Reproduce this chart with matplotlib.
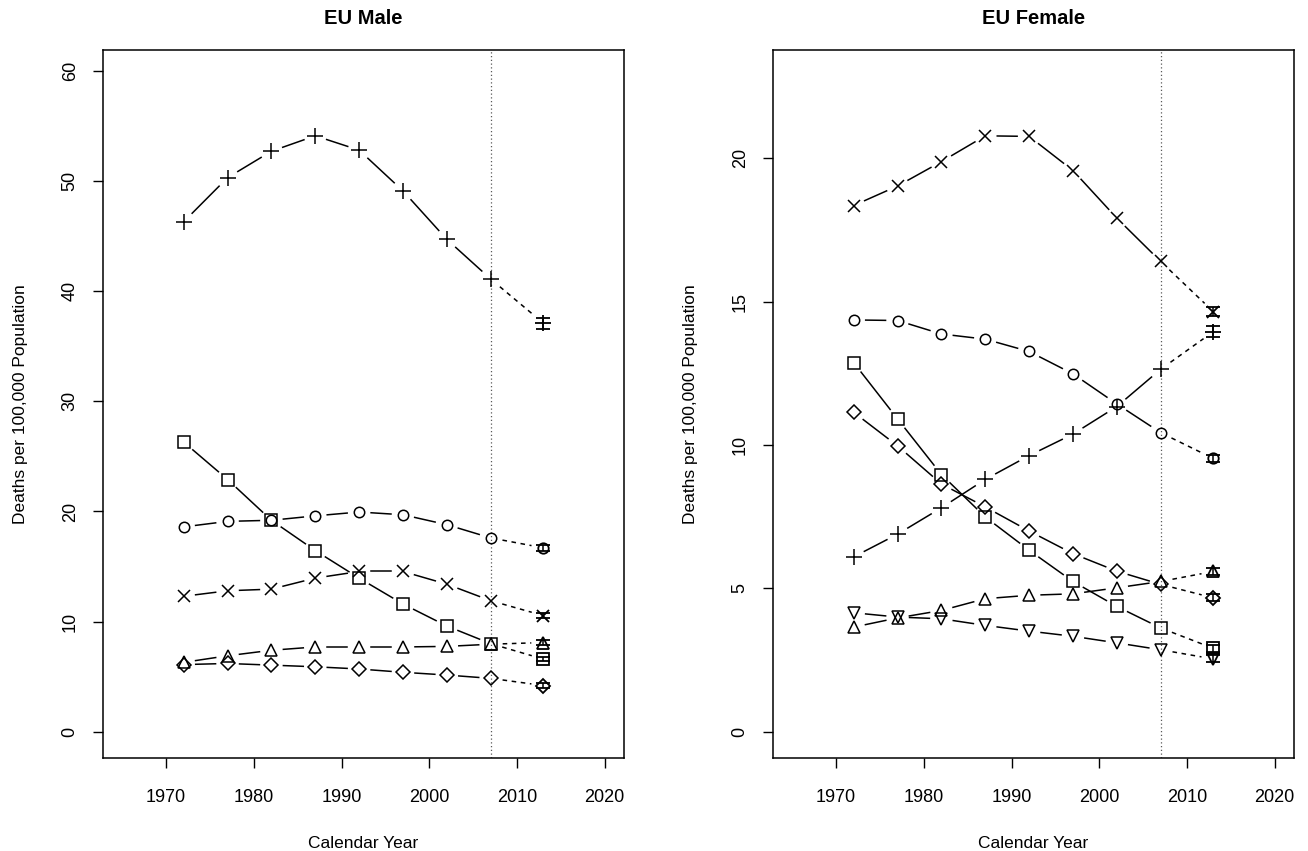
import numpy as np
import matplotlib.pyplot as plt

plt.rcParams['font.family'] = ['Liberation Sans', 'DejaVu Sans']

years = [1972, 1977, 1982, 1987, 1992, 1997, 2002, 2007]
pred_year = 2013

# EU male: observed rates, 2013 prediction, prediction error
male_plus = [46.3, 50.3, 52.7, 54.1, 52.8, 49.1, 44.7, 41.1]
male_square = [26.3, 22.9, 19.2, 16.45, 13.95, 11.6, 9.6, 8.0]
male_circle = [18.6, 19.1, 19.2, 19.6, 19.95, 19.7, 18.8, 17.6]
male_cross = [12.3, 12.8, 12.95, 13.95, 14.55, 14.55, 13.4, 11.9]
male_tri = [6.3, 6.9, 7.4, 7.7, 7.7, 7.7, 7.75, 7.95]
male_diamond = [6.1, 6.2, 6.05, 5.9, 5.7, 5.4, 5.15, 4.85]
male_pred = [37.1, 6.6, 16.7, 10.55, 8.1, 4.2]
male_err = [0.5, 0.2, 0.25, 0.25, 0.2, 0.2]

# EU female
fem_cross = [18.35, 19.03, 19.88, 20.78, 20.76, 19.57, 17.91, 16.4]
fem_circle = [14.36, 14.34, 13.87, 13.69, 13.26, 12.48, 11.43, 10.43]
fem_square = [12.87, 10.91, 8.97, 7.49, 6.33, 5.24, 4.37, 3.62]
fem_diamond = [11.14, 9.97, 8.64, 7.84, 7.0, 6.21, 5.6, 5.14]
fem_plus = [6.1, 6.89, 7.81, 8.8, 9.63, 10.38, 11.34, 12.64]
fem_tri = [3.65, 3.97, 4.23, 4.64, 4.76, 4.81, 5.02, 5.24]
fem_tri_down = [4.15, 4.0, 3.94, 3.71, 3.51, 3.33, 3.1, 2.86]
fem_pred = [14.65, 9.53, 2.91, 4.67, 13.95, 5.59, 2.54]
fem_err = [0.15, 0.12, 0.12, 0.12, 0.2, 0.12, 0.12]

W, H = 1308, 851
AX_W, AX_H = 521, 708
GAP = 12  # px between line end and point, like R type="b"

fig = plt.figure(figsize=(W / 100, H / 100), dpi=100)


def gapped_line(ax, xs, ys, **kw):
    pts = ax.transData.transform(np.column_stack([xs, ys]))
    inv = ax.transData.inverted()
    for p, q in zip(pts[:-1], pts[1:]):
        d = q - p
        n = np.hypot(d[0], d[1])
        if n <= 2 * GAP:
            continue
        u = d / n
        seg = inv.transform(np.array([p + u * GAP, q - u * GAP]))
        ax.plot(seg[:, 0], seg[:, 1], color='black', lw=1.1, **kw)


def panel(left_px, title, series, preds, errs, yticks):
    ax = fig.add_axes([left_px / W, 1 - (50 + AX_H) / H, AX_W / W, AX_H / H])
    ymax = 1.1 * max(max(s[0]) for s in series)
    ax.set_xlim(1965 - 0.04 * 55, 2020 + 0.04 * 55)
    ax.set_ylim(-0.04 * ymax, 1.04 * ymax)
    ax.axvline(2007, color='0.35', lw=0.9, ls=(0, (1, 2)))

    for (vals, mk, ms), pred, err in zip(series, preds, errs):
        gapped_line(ax, years, vals)
        gapped_line(ax, [years[-1], pred_year], [vals[-1], pred], ls=(0, (3, 3)))
        ax.plot(years, vals, ls='none', marker=mk, ms=ms, mfc='none',
                mec='black', mew=1.1)
        ax.errorbar([pred_year], [pred], yerr=[err], fmt=mk, ms=ms, mfc='none',
                    mec='black', mew=1.3, ecolor='black', elinewidth=1.1,
                    capsize=5, capthick=1.1)

    ax.set_xticks([1970, 1980, 1990, 2000, 2010, 2020])
    ax.set_yticks(yticks)
    ax.tick_params(direction='out', length=7.5, width=1.0, labelsize=13)
    ax.tick_params(axis='x', pad=15)
    ax.tick_params(axis='y', pad=10, labelrotation=90)
    for lbl in ax.get_yticklabels():
        lbl.set_va('center')
    for s in ax.spines.values():
        s.set_linewidth(1.1)

    ax.text(0.5, 1 + 32 / AX_H, title, transform=ax.transAxes, ha='center',
            va='center', fontsize=14.5, fontweight='bold')
    ax.text(0.5, -86 / AX_H, 'Calendar Year', transform=ax.transAxes,
            ha='center', va='center', fontsize=12.5)
    ax.text(-82 / AX_W, 0.5, 'Deaths per 100,000 Population', transform=ax.transAxes,
            ha='center', va='center', rotation=90, fontsize=12.5)
    return ax


male_series = [
    (male_plus, '+', 11),
    (male_square, 's', 8),
    (male_circle, 'o', 7.5),
    (male_cross, 'x', 8),
    (male_tri, '^', 8.5),
    (male_diamond, 'D', 7),
]
fem_series = [
    (fem_cross, 'x', 8),
    (fem_circle, 'o', 7.5),
    (fem_square, 's', 8),
    (fem_diamond, 'D', 7),
    (fem_plus, '+', 11),
    (fem_tri, '^', 8.5),
    (fem_tri_down, 'v', 8.5),
]

panel(103, 'EU Male', male_series, male_pred, male_err, [0, 10, 20, 30, 40, 50, 60])
panel(773, 'EU Female', fem_series, fem_pred, fem_err, [0, 5, 10, 15, 20])

fig.savefig('out.png', dpi=100, facecolor='white')
